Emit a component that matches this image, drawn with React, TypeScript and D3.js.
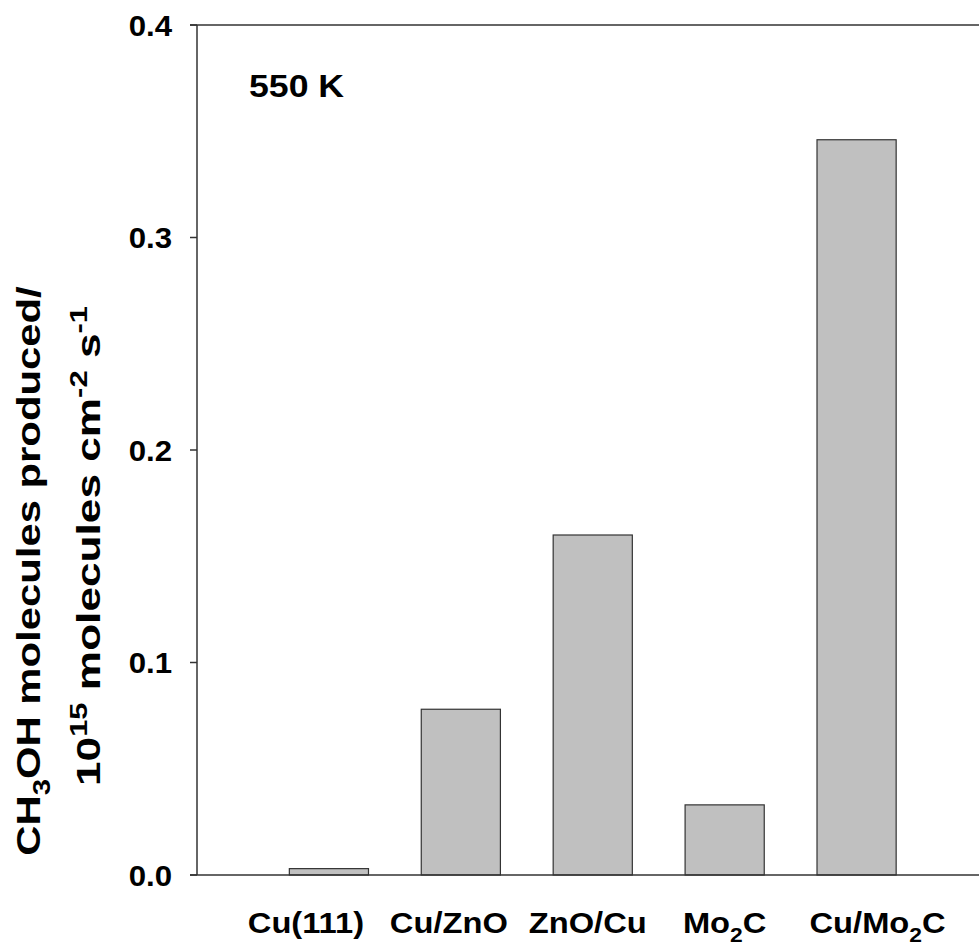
import React from "react";
import * as d3 from "d3";

const categories = ["Cu(111)", "Cu/ZnO", "ZnO/Cu", "Mo_2C", "Cu/Mo_2C"];
const values = [0.003, 0.078, 0.16, 0.033, 0.346];
const yTicks = [0.0, 0.1, 0.2, 0.3, 0.4];
const annotation = "550 K";
const titleLine1 = "CH_3OH molecules produced/";
const titleLine2 = "10^{15} molecules cm^{-2} s^{-1}";

// layout constants
const W = 979;
const H = 948;
const left = 197;
const top = 25;
const bottom = 875;
const labelShift = [-23, -12, -5, 0, 21];
const FONT = "'Liberation Sans', Arial, sans-serif";

type Part = { t: string; k: "n" | "sub" | "sup" };
function parse(s: string): Part[] {
  const out: Part[] = [];
  let buf = "";
  let i = 0;
  while (i < s.length) {
    const c = s[i];
    if (c === "_" || c === "^") {
      if (buf) { out.push({ t: buf, k: "n" }); buf = ""; }
      let t = "";
      if (s[i + 1] === "{") {
        const j = s.indexOf("}", i);
        t = s.slice(i + 2, j);
        i = j + 1;
      } else {
        t = s[i + 1];
        i += 2;
      }
      out.push({ t, k: c === "_" ? "sub" : "sup" });
    } else {
      buf += c;
      i++;
    }
  }
  if (buf) out.push({ t: buf, k: "n" });
  return out;
}

function Rich({ s, size }: { s: string; size: number }) {
  const parts = parse(s);
  let shift = 0;
  return (
    <>
      {parts.map((p, i) => {
        let target = 0;
        if (p.k === "sub") target = size * 0.3;
        if (p.k === "sup") target = -size * 0.38;
        const dy = target - shift;
        shift = target;
        return (
          <tspan key={i} dy={dy} fontSize={p.k === "n" ? size : size * 0.7}>
            {p.t}
          </tspan>
        );
      })}
    </>
  );
}

export default function App() {
  const x = d3.scaleLinear().domain([0, 6]).range([left, 988.5]);
  const y = d3.scaleLinear().domain([0, 0.4]).range([bottom, top]);
  const barW = x(0.6) - x(0);
  const axisColor = "#333";

  return (
    <svg
      width={W}
      height={H}
      style={{ position: "absolute", left: 0, top: 0, background: "#fff" }}
      fontFamily={FONT}
      fontWeight="bold"
    >
      <rect width={W} height={H} fill="#fff" />
      {values.map((v, i) => (
        <rect
          key={i}
          x={x(i + 1) - barW / 2}
          y={y(v)}
          width={barW}
          height={y(0) - y(v)}
          fill="#c0c0c0"
          stroke="#333"
          strokeWidth={1.2}
        />
      ))}
      {/* axes */}
      <line x1={left} x2={left} y1={y(0.4)} y2={y(0)} stroke={axisColor} strokeWidth={1.5} />
      <line x1={left - 7} x2={W} y1={y(0.4)} y2={y(0.4)} stroke={axisColor} strokeWidth={1.5} />
      <line x1={left - 7} x2={W} y1={y(0)} y2={y(0)} stroke={axisColor} strokeWidth={1.5} />
      {yTicks.map((t, i) => (
        <g key={i}>
          <line x1={left - 7} x2={left} y1={y(t)} y2={y(t)} stroke={axisColor} strokeWidth={1.5} />
          <text
            transform={`translate(172,${y(t)}) scale(1.04,1)`}
            dy="0.36em"
            textAnchor="end"
            fontSize={30}
            fill="#000"
          >
            {t.toFixed(1)}
          </text>
        </g>
      ))}
      {categories.map((c, i) => (
        <text
          key={c}
          transform={`translate(${x(i + 1) + labelShift[i]},933) scale(1.09,1)`}
          textAnchor="middle"
          fontSize={30}
          fill="#000"
        >
          <Rich s={c} size={30} />
        </text>
      ))}
      <text transform="translate(249,97) scale(1.15,1)" fontSize={31} fill="#000">
        {annotation}
      </text>
      <text transform="translate(40,571) rotate(-90) scale(1.23,1)" textAnchor="middle" fontSize={34} fill="#000">
        <Rich s={titleLine1} size={34} />
      </text>
      <text transform="translate(100,546) rotate(-90) scale(1.3,1)" textAnchor="middle" fontSize={34} fill="#000">
        <Rich s={titleLine2} size={34} />
      </text>
    </svg>
  );
}
